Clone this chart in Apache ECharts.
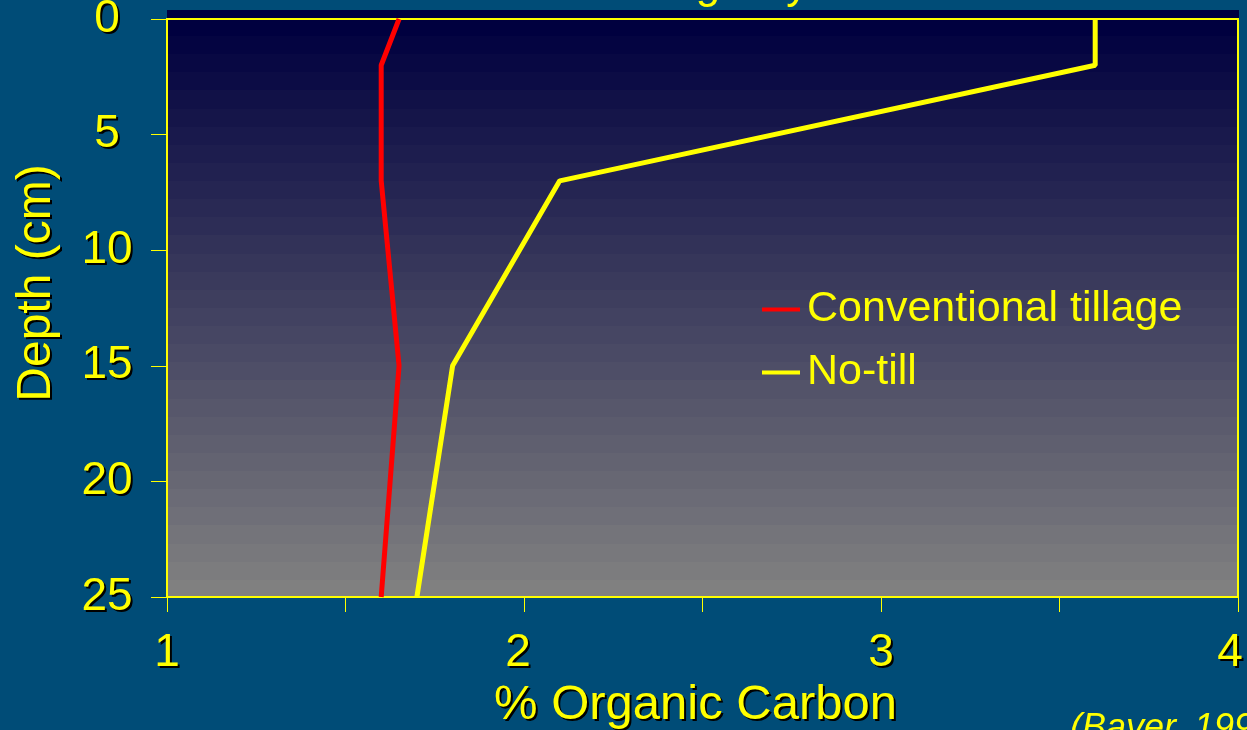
<!DOCTYPE html>
<html>
<head>
<meta charset="utf-8">
<script src="https://cdn.jsdelivr.net/npm/echarts@6/dist/echarts.min.js"></script>
<style>
html,body{margin:0;padding:0;background:#004c77;}
#chart{width:1247px;height:730px;}
</style>
</head>
<body>
<div id="chart"></div>
<script>
// ---- data ----
var depths = [0, 2, 7, 15, 25];
var conventionalTillage = [1.65, 1.60, 1.60, 1.65, 1.60];
var noTill = [3.60, 3.60, 2.10, 1.80, 1.70];
var seriesNames = ['Conventional tillage', 'No-till'];
var xTicks = [1, 2, 3, 4];
var yTicks = [0, 5, 10, 15, 20, 25];
var titleText = 'Soil Carbon in Tillage Systems';
var sourceText = '(Bayer, 1996)';
var xName = '% Organic Carbon';
var yName = 'Depth (cm)';

function pairs(vals) {
  return vals.map(function (v, i) { return [v, depths[i]]; });
}

// banded gradient background
var stops = [];
var N = 32;
for (var i = 0; i < N; i++) {
  var t = i / (N - 1);
  var r = Math.round(0 + 128 * t), g = Math.round(0 + 128 * t), b = Math.round(63 + 65 * t);
  var c = 'rgb(' + r + ',' + g + ',' + b + ')';
  stops.push({offset: i / N, color: c});
  stops.push({offset: (i + 1) / N, color: c});
}

var YEL = '#ffff00';
var FONT = '"Liberation Sans", Arial, sans-serif';
var shadow = {textShadowColor: '#000', textShadowOffsetX: 2, textShadowOffsetY: 2, textShadowBlur: 0.5};
var labelStyle = Object.assign({color: YEL, fontSize: 46, fontFamily: FONT}, shadow);

var chart = echarts.init(document.getElementById('chart'));
chart.setOption({
  backgroundColor: '#004c77',
  animation: false,
  textStyle: {fontFamily: FONT},
  grid: {
    left: 167, right: 9, top: 19, bottom: 133,
    outerBoundsMode: 'none',
    containLabel: false,
    show: true,
    borderColor: YEL, borderWidth: 2,
    backgroundColor: {type: 'linear', x: 0, y: 0, x2: 0, y2: 1, colorStops: stops}
  },
  graphic: [
    {type: 'rect', z: -1, shape: {x: 167, y: 10, width: 1072, height: 9}, style: {fill: 'rgb(0,0,63)'}},
    {type: 'text', x: 328, y: 8, style: {text: titleText, fill: YEL, font: '44px ' + FONT, verticalAlign: 'bottom', shadowColor: '#000', shadowOffsetX: 2, shadowOffsetY: 2, shadowBlur: 0.5}},
    {type: 'text', x: 1070, y: 711, style: {text: sourceText, fill: YEL, font: 'italic 36px ' + FONT, verticalAlign: 'top', shadowColor: '#000', shadowOffsetX: 2, shadowOffsetY: 2, shadowBlur: 0.5}}
  ],
  legend: {
    orient: 'vertical',
    left: 757, top: 283,
    icon: 'rect', itemWidth: 38, itemHeight: 4,
    itemGap: 20,
    textStyle: {color: YEL, fontSize: 43, fontFamily: FONT, padding: [0, 0, 0, 2]},
    data: seriesNames
  },
  xAxis: {
    type: 'value', min: 1, max: 4, interval: 0.5,
    name: xName, nameLocation: 'middle', nameGap: 79,
    nameTextStyle: Object.assign({color: YEL, fontSize: 49, fontFamily: FONT, padding: [0, 14, 0, 0]}, shadow),
    axisLine: {show: true, onZero: false, lineStyle: {color: YEL, width: 2}},
    axisTick: {show: true, length: 15, lineStyle: {color: YEL, width: 1}},
    splitLine: {show: false},
    axisLabel: Object.assign({
      margin: 33,
      formatter: function (v) {
        if (xTicks.indexOf(v) < 0) return '';
        if (v === 2) return '{s|' + v + '}';
        if (v === 4) return '{e|' + v + '}';
        return '{n|' + v + '}';
      },
      rich: {
        n: labelStyle,
        s: Object.assign({padding: [0, 12, 0, 0]}, labelStyle),
        e: Object.assign({padding: [0, 16, 0, 0]}, labelStyle)
      }
    }, labelStyle)
  },
  yAxis: {
    type: 'value', min: 0, max: 25, interval: 5, inverse: true,
    name: yName, nameLocation: 'middle', nameGap: 106, nameRotate: 90,
    nameTextStyle: Object.assign({color: YEL, fontSize: 48, fontFamily: FONT, padding: [0, 0, 0, 50]}, shadow),
    axisLine: {show: true, onZero: false, lineStyle: {color: YEL, width: 2}},
    axisTick: {show: true, length: 16, lineStyle: {color: YEL, width: 1}},
    splitLine: {show: false},
    axisLabel: Object.assign({
      margin: 60, align: 'center',
      formatter: function (v) { return yTicks.indexOf(v) >= 0 ? String(v) : ''; }
    }, labelStyle)
  },
  series: [
    {name: seriesNames[0], type: 'line', data: pairs(conventionalTillage), symbol: 'none',
     lineStyle: {color: '#ff0000', width: 5}, itemStyle: {color: '#ff0000'}},
    {name: seriesNames[1], type: 'line', data: pairs(noTill), symbol: 'none',
     lineStyle: {color: YEL, width: 5}, itemStyle: {color: YEL}}
  ]
});
</script>
</body>
</html>
